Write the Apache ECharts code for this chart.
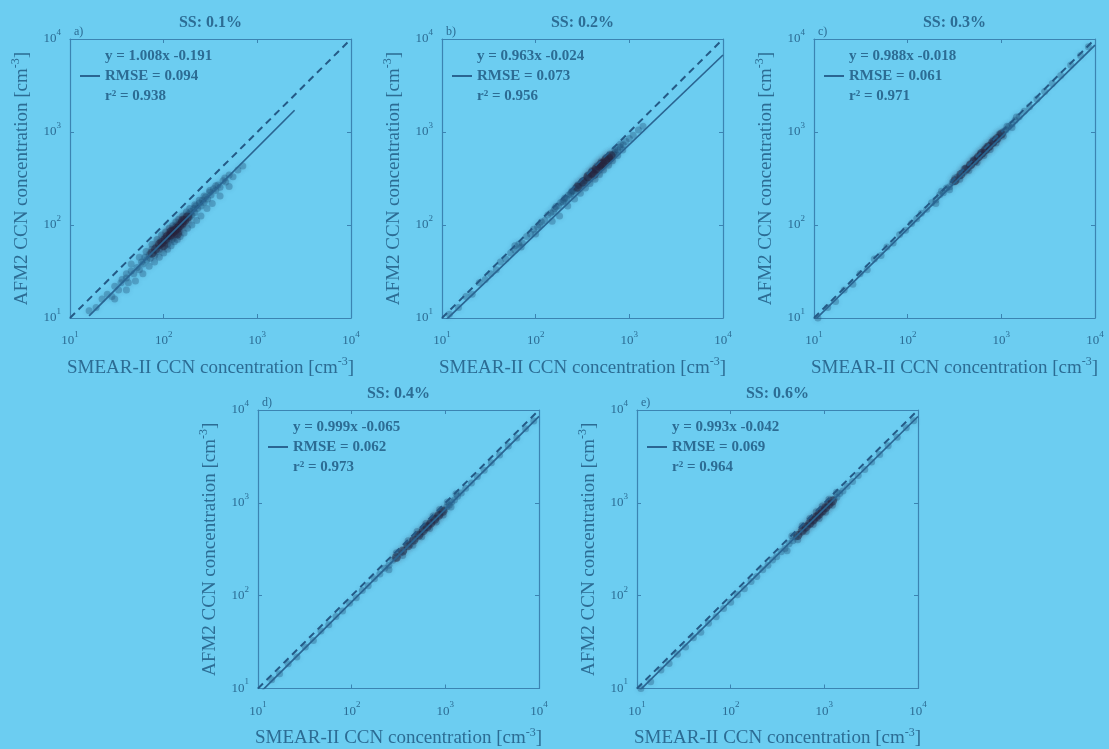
<!DOCTYPE html>
<html>
<head>
<meta charset="utf-8">
<script src="https://cdn.jsdelivr.net/npm/echarts@6/dist/echarts.min.js"></script>
<style>
  html, body { margin: 0; padding: 0; background: #6ccdf1; }
  #chart { width: 1109px; height: 749px; }
</style>
</head>
<body>
<div id="chart"></div>
<script>
// Panel titles and labels
const panelTitles = ['SS: 0.1%', 'SS: 0.2%', 'SS: 0.3%', 'SS: 0.4%', 'SS: 0.6%'];
const panelLetters = ['a)', 'b)', 'c)', 'd)', 'e)'];

// Log-log fit parameters per supersaturation
const fitSlopes = [1.008, 0.963, 0.988, 0.999, 0.993];
const fitIntercepts = [-0.191, -0.024, -0.018, -0.065, -0.042];
const rmseValues = ['0.094', '0.073', '0.061', '0.062', '0.069'];
const r2Values = ['0.938', '0.956', '0.971', '0.973', '0.964'];
// x extent covered by each fit line
const fitRanges = [[16, 2500], [10, 10000], [10, 10000], [10, 10000], [10, 10000]];

// Axis extent (cm^-3) and 1:1 reference line
const axisRange = [10, 10000];
const oneToOne = [10, 10000];

// Paired CCN concentrations: [SMEAR-II, AFM2]
const pointsA = [[16,12],[19,13],[22,16],[25,18],[28,17],[30,22],[33,20],[36,26],[40,27],[42,24],[45,32],[48,30],[52,35],[55,33],[58,40],[60,38],[63,45],[66,42],[70,48],[72,44],[75,55],[78,50],[80,47],[83,58],[85,52],[88,60],[90,55],[92,66],[95,62],[98,58],[100,70],[103,64],[105,75],[108,68],[110,62],[113,78],[115,72],[118,85],[120,76],[123,70],[125,90],[128,82],[130,78],[133,95],[135,86],[138,80],[140,100],[143,90],[146,84],[150,105],[153,96],[156,110],[160,100],[165,118],[170,108],[175,125],[180,115],[185,132],[190,122],[196,140],[200,128],[210,150],[215,136],[220,160],[230,150],[240,172],[250,160],[260,185],[270,175],[280,200],[295,190],[310,225],[320,210],[340,245],[360,235],[380,270],[400,255],[430,300],[460,290],[500,345],[550,330],[620,390],[700,430]];
const edgeA = [[30,16],[35,24],[40,20],[40,30],[45,38],[50,25],[55,45],[60,30],[65,52],[70,36],[75,62],[80,40],[85,70],[90,45],[95,78],[100,50],[105,84],[110,55],[115,92],[120,60],[125,98],[130,66],[135,108],[140,70],[145,115],[150,75],[160,125],[165,82],[175,138],[180,92],[190,150],[200,100],[215,165],[225,112],[240,185],[250,125],[270,205],[290,150],[310,235],[330,170],[360,265],[400,205],[450,320],[500,260]];
const coreA = [[75,50],[82,55],[90,62],[96,65],[104,70],[110,76],[118,78],[125,84],[132,88],[140,92],[148,98],[158,105],[168,112],[180,122],[100,60],[120,85],[140,80],[160,112]];

const pointsB = [[12,11],[15,13],[18,17],[21,18],[25,24],[29,26],[33,30],[38,33],[42,40],[48,43],[54,50],[60,54],[66,62],[72,64],[80,75],[88,80],[95,90],[105,95],[115,108],[125,112],[135,128],[145,135],[155,140],[165,158],[175,160],[185,175],[195,178],[205,195],[215,190],[225,210],[235,215],[245,232],[255,230],[265,250],[275,245],[285,268],[295,262],[305,285],[315,280],[330,300],[340,305],[355,325],[365,318],[380,350],[395,345],[410,370],[420,380],[435,395],[450,392],[465,420],[480,415],[495,445],[510,440],[525,470],[540,460],[560,495],[580,490],[600,520],[625,515],[650,560],[680,575],[710,610],[750,640],[800,690],[860,730],[920,790],[1000,850],[1100,920],[1250,1050],[1400,1150]];
const edgeB = [[60,60],[70,58],[100,80],[110,100],[150,110],[160,150],[180,125],[200,185],[220,160],[240,225],[260,190],[280,270],[300,220],[320,300],[340,250],[360,345],[380,280],[400,385],[430,310],[450,430],[480,350],[500,480],[530,390],[560,530],[600,440],[620,580],[660,490],[700,650],[750,560],[800,740],[850,640]];
const coreB = [[280,255],[320,290],[360,330],[400,365],[440,400],[480,430],[520,460],[560,500],[600,530],[640,555],[420,350],[500,450]];

const pointsC = [[11,10],[14,13],[17,15],[21,20],[26,23],[31,30],[37,33],[44,43],[52,47],[60,58],[70,64],[82,79],[95,88],[110,104],[125,117],[140,134],[160,148],[180,174],[200,186],[220,212],[240,222],[260,250],[280,258],[300,288],[320,296],[340,328],[360,336],[380,366],[400,370],[420,404],[440,410],[460,445],[480,448],[500,484],[520,486],[545,526],[570,535],[595,576],[620,585],[650,628],[680,640],[710,688],[740,695],[780,752],[820,770],[860,828],[900,845],[950,912],[1000,945],[1060,1018],[1120,1055],[1200,1148],[1300,1222],[1400,1340],[1550,1460],[1750,1675],[2000,1870],[2400,2270],[2900,2730],[3500,3330],[4300,4060],[5500,5240],[7000,6640],[8500,8250]];
const edgeC = [[200,170],[230,230],[280,240],[320,320],[360,310],[400,400],[450,385],[500,500],[550,470],[600,600],[650,560],[700,700],[760,650],[820,820],[880,760],[950,950],[1050,900],[1150,1150],[1300,1120],[1450,1450]];
const coreC = [[320,300],[370,350],[420,400],[470,445],[520,490],[570,540],[620,590],[680,645],[740,700],[810,770],[900,850],[1000,950]];

const pointsD = [[11,9.6],[14,12.4],[17,14.4],[21,18.5],[26,21.8],[32,28],[39,32.8],[47,41.5],[57,48.6],[68,59.6],[80,68.5],[95,83],[112,95],[130,114],[150,128],[175,152],[200,171],[225,197],[250,213],[275,241],[300,256],[330,289],[360,307],[390,341],[420,358],[450,393],[480,410],[510,446],[540,463],[570,498],[600,515],[630,550],[660,566],[690,602],[720,618],[760,662],[800,688],[840,732],[880,755],[930,810],[980,842],[1040,907],[1100,946],[1170,1018],[1250,1075],[1350,1175],[1480,1275],[1650,1438],[1900,1640],[2200,1920],[2600,2245],[3100,2700],[3800,3280],[4700,4100],[5800,5000],[7200,6280],[8800,7620]];
const edgeD = [[250,190],[300,290],[350,270],[400,390],[450,350],[500,490],[560,430],[620,600],[680,530],[740,720],[800,620],[870,850],[950,740],[1050,1020],[1150,900],[1300,1250]];
const coreD = [[300,258],[350,302],[400,345],[460,396],[520,448],[580,500],[640,552],[700,604],[770,664],[850,733],[940,810]];

const pointsE = [[11,10],[14,11.8],[18,15.8],[22,18.6],[27,23.4],[33,28],[40,35.2],[48,40.4],[58,50.4],[70,59.2],[84,72.6],[100,85],[118,102],[140,119],[165,142],[190,161],[220,190],[250,212],[280,242],[310,262],[345,298],[380,322],[420,362],[460,390],[500,432],[540,458],[580,500],[620,525],[660,570],[700,592],[740,638],[780,662],[820,706],[860,730],[900,776],[950,806],[1000,862],[1060,898],[1120,965],[1190,1008],[1270,1092],[1360,1152],[1460,1258],[1580,1342],[1750,1505],[2000,1700],[2300,1975],[2700,2290],[3200,2750],[3900,3310],[4800,4130],[6000,5090],[7500,6440],[9000,7660]];
const edgeE = [[400,305],[450,440],[520,400],[580,565],[640,490],[700,680],[760,585],[820,800],[880,680],[950,925],[1030,790],[1120,1090],[1220,940],[1350,1300]];
const coreE = [[520,445],[580,498],[640,550],[700,602],[760,654],[820,705],[880,757],[950,817],[1030,885],[1120,962],[1220,1048]];

const panelPoints = [pointsA.concat(edgeA), pointsB.concat(edgeB), pointsC.concat(edgeC), pointsD.concat(edgeD), pointsE.concat(edgeE)];
const panelCores = [coreA, coreB, coreC, coreD, coreE];

// Plot-box placement on the page
const boxes = [
  { left: 70,  top: 39 },
  { left: 442, top: 39 },
  { left: 814, top: 39 },
  { left: 258, top: 410 },
  { left: 637, top: 410 }
];
const boxW = 281, boxH = 279;

const textColor = '#2c6c94';
const lineColor = '#3b84b2';
const serif = '"Liberation Serif", "DejaVu Serif", serif';

const supRich = {
  b: { fontSize: 13, fontFamily: serif, color: textColor, lineHeight: 22 },
  s: { fontSize: 9, fontFamily: serif, color: textColor, lineHeight: 10, verticalAlign: 'top' }
};
const nameRich = {
  n: { fontSize: 19, fontFamily: serif, color: textColor, lineHeight: 24 },
  s: { fontSize: 12, fontFamily: serif, color: textColor, lineHeight: 12, verticalAlign: 'top' }
};
const tickFormatter = v => '{b|10}{s|' + Math.round(Math.log10(v)) + '}';

const grid = [], xAxis = [], yAxis = [], series = [], legend = [], title = [];

boxes.forEach((b, i) => {
  grid.push({ left: b.left, top: b.top, width: boxW, height: boxH, containLabel: false });

  const common = {
    type: 'log', logBase: 10, min: axisRange[0], max: axisRange[1], gridIndex: i,
    splitLine: { show: false }, minorTick: { show: false },
    axisLine: { show: true, lineStyle: { color: lineColor, width: 1.2 } },
    axisTick: { show: true, inside: true, length: 4, lineStyle: { color: lineColor } }
  };
  xAxis.push(Object.assign({}, common, {
    position: 'bottom',
    axisLabel: { formatter: tickFormatter, rich: supRich, margin: 12 },
    name: '{n|SMEAR-II CCN concentration [cm}{s|-3}{n|]}',
    nameLocation: 'middle', nameGap: 38,
    nameTextStyle: { rich: nameRich }
  }));
  xAxis.push(Object.assign({}, common, { position: 'top', axisLabel: { show: false } }));
  yAxis.push(Object.assign({}, common, {
    position: 'left',
    axisLabel: { formatter: tickFormatter, rich: supRich, margin: 9 },
    name: '{n|AFM2 CCN concentration [cm}{s|-3}{n|]}',
    nameLocation: 'middle', nameGap: 36,
    nameTextStyle: { rich: nameRich }
  }));
  yAxis.push(Object.assign({}, common, { position: 'right', axisLabel: { show: false } }));

  const xi = i * 2, yi = i * 2;

  // measurement cloud
  series.push({
    type: 'scatter', xAxisIndex: xi, yAxisIndex: yi, data: panelPoints[i],
    symbolSize: 7, silent: true,
    itemStyle: { color: 'rgba(30,76,116,0.38)', shadowBlur: 5, shadowColor: 'rgba(30,76,116,0.45)' }
  });
  series.push({
    type: 'scatter', xAxisIndex: xi, yAxisIndex: yi, data: panelCores[i],
    symbolSize: 9, silent: true,
    itemStyle: { color: 'rgba(36,34,60,0.55)', shadowBlur: 6, shadowColor: 'rgba(70,34,52,0.55)' }
  });

  // 1:1 line
  series.push({
    type: 'line', xAxisIndex: xi, yAxisIndex: yi, symbol: 'none', silent: true,
    data: [[oneToOne[0], oneToOne[0]], [oneToOne[1], oneToOne[1]]],
    lineStyle: { color: '#245a86', width: 2, type: [7, 5] }
  });

  // fitted line, log10(y) = m*log10(x) + c
  const m = fitSlopes[i], c = fitIntercepts[i];
  const fitY = x => Math.pow(10, m * Math.log10(x) + c);
  const fitName = 'y = ' + m.toFixed(3) + 'x ' + c.toFixed(3) +
                  '\nRMSE = ' + rmseValues[i] + '\nr\u00b2 = ' + r2Values[i];
  series.push({
    name: fitName,
    type: 'line', xAxisIndex: xi, yAxisIndex: yi, symbol: 'none', silent: true,
    data: fitRanges[i].map(x => [x, fitY(x)]),
    lineStyle: { color: '#2a6592', width: 1.7 },
    itemStyle: { color: '#2a6592' }
  });

  legend.push({
    data: [fitName], selectedMode: false,
    left: b.left + 10, top: b.top + 7, padding: 0,
    icon: 'rect', itemWidth: 20, itemHeight: 2, itemGap: 0,
    textStyle: { fontSize: 15, fontWeight: 'bold', fontFamily: serif, color: textColor, lineHeight: 20 }
  });

  title.push({
    text: panelTitles[i], left: b.left + boxW / 2, top: b.top - 24, textAlign: 'center', padding: 0,
    textStyle: { fontSize: 16, fontWeight: 'bold', fontFamily: serif, color: textColor }
  });
  title.push({
    text: panelLetters[i], left: b.left + 4, top: b.top - 13, padding: 0,
    textStyle: { fontSize: 12, fontWeight: 'normal', fontFamily: serif, color: textColor }
  });
});

const chart = echarts.init(document.getElementById('chart'), null, { renderer: 'canvas' });
chart.setOption({
  backgroundColor: '#6ccdf1',
  animation: false,
  title, legend, grid, xAxis, yAxis, series
});
</script>
</body>
</html>
